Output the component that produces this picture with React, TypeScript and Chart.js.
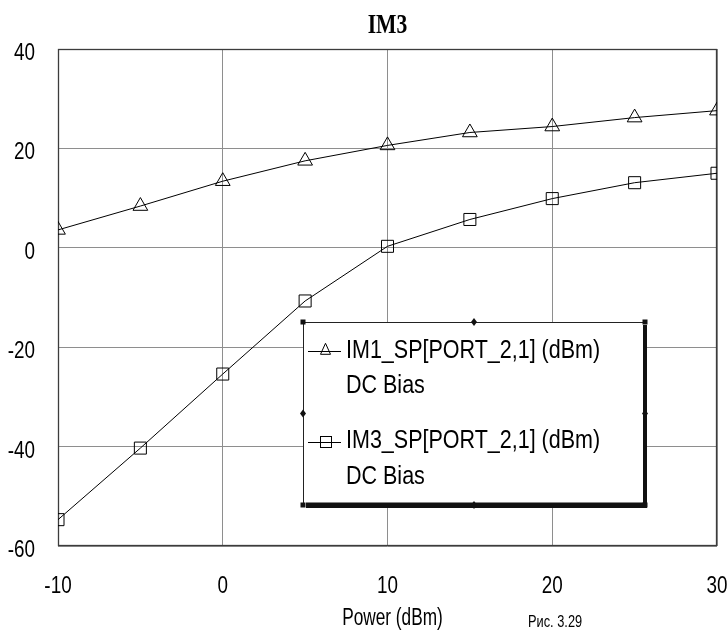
import React, { useEffect, useRef } from 'react';
import { Chart, registerables } from 'chart.js';

Chart.register(...registerables);

// ---- data ----
const powerDbm = [-10, -5, 0, 5, 10, 15, 20, 25, 30];
const im1Values = [3.6, 8.4, 13.4, 17.5, 20.6, 23.2, 24.4, 26.2, 27.6];
const im3Values = [-54.7, -40.3, -25.4, -10.7, 0.3, 5.7, 9.9, 13.1, 15.0];
const xTickValues = [-10, 0, 10, 20, 30];
const yTickValues = [-60, -40, -20, 0, 20, 40];
const seriesNames = ['IM1_SP[PORT_2,1] (dBm)', 'IM3_SP[PORT_2,1] (dBm)'];
const seriesSubtitle = 'DC Bias';
const chartTitle = 'IM3';
const xAxisTitle = 'Power (dBm)';
const figureNote = 'Рис. 3.29';

const SANS = "'Liberation Sans', Arial, sans-serif";
const SERIF = "'Liberation Serif', 'Times New Roman', serif";

// draws horizontally condensed text (the original uses a narrow face)
function narrowText(
  ctx: CanvasRenderingContext2D,
  text: string,
  x: number,
  y: number,
  font: string,
  sx: number,
  align: CanvasTextAlign,
) {
  ctx.save();
  ctx.font = font;
  ctx.textAlign = align;
  ctx.textBaseline = 'alphabetic';
  ctx.translate(x, y);
  ctx.scale(sx, 1);
  ctx.fillText(text, 0, 0);
  ctx.restore();
}

function drawTri(ctx: CanvasRenderingContext2D, x: number, y: number, w: number, h: number) {
  ctx.beginPath();
  ctx.moveTo(x, y - h * 0.7);
  ctx.lineTo(x + w / 2, y + h * 0.3);
  ctx.lineTo(x - w / 2, y + h * 0.3);
  ctx.closePath();
  ctx.stroke();
}

const decorPlugin = {
  id: 'decor',
  beforeDatasetsDraw(chart: any) {
    const { ctx, chartArea: ca } = chart;
    ctx.save();
    ctx.strokeStyle = '#3c3c3c';
    ctx.lineWidth = 1.3;
    ctx.strokeRect(ca.left + 0.5, ca.top + 0.5, ca.right - ca.left - 1, ca.bottom - ca.top - 1);
    ctx.restore();
  },
  afterDraw(chart: any) {
    const { ctx, chartArea: ca, scales } = chart;
    ctx.save();
    ctx.fillStyle = '#000';

    // title
    narrowText(ctx, chartTitle, (ca.left + ca.right) / 2, 33, `bold 27px ${SERIF}`, 0.8, 'center');

    // y tick labels
    scales.y.ticks.forEach((t: any) => {
      const py = scales.y.getPixelForValue(t.value);
      narrowText(ctx, String(t.value), ca.left - 23, py + 11, `23px ${SANS}`, 0.82, 'right');
    });
    // x tick labels
    scales.x.ticks.forEach((t: any) => {
      const px = scales.x.getPixelForValue(t.value);
      narrowText(ctx, String(t.value), px, 593, `23px ${SANS}`, 0.82, 'center');
    });
    // x axis title
    narrowText(ctx, xAxisTitle, (ca.left + ca.right) / 2 + 5, 625, `23px ${SANS}`, 0.75, 'center');

    // figure note
    narrowText(ctx, figureNote, 528, 627, `16px ${SANS}`, 0.8, 'left');

    // legend box
    const L = 303, R = 645, T = 322, B = 505;
    ctx.fillStyle = '#fff';
    ctx.fillRect(L, T, R - L, B - T);
    ctx.strokeStyle = '#222';
    ctx.lineWidth = 1;
    ctx.beginPath();
    ctx.moveTo(L, T + 0.5);
    ctx.lineTo(R, T + 0.5);
    ctx.moveTo(L + 0.5, T);
    ctx.lineTo(L + 0.5, B);
    ctx.stroke();
    ctx.fillStyle = '#111';
    ctx.fillRect(L + 3, B - 2.5, R - L - 3, 5.5);
    ctx.fillRect(R - 2, T + 3, 4, B - T);
    const corners = [[L, T], [R, T], [L, B], [R, B]];
    corners.forEach(([cx, cy]) => ctx.fillRect(cx - 2.5, cy - 2.5, 5, 5));
    const mids = [[(L + R) / 2, T], [L, (T + B) / 2], [R, (T + B) / 2], [(L + R) / 2, B]];
    mids.forEach(([cx, cy]) => {
      ctx.beginPath();
      ctx.moveTo(cx, cy - 4);
      ctx.lineTo(cx + 3, cy);
      ctx.lineTo(cx, cy + 4);
      ctx.lineTo(cx - 3, cy);
      ctx.closePath();
      ctx.fill();
    });

    // legend entries
    ctx.strokeStyle = '#000';
    ctx.lineWidth = 1;
    const rows = [
      { lineY: 351, base1: 358, base2: 393 },
      { lineY: 442, base1: 448, base2: 484 },
    ];
    rows.forEach((r, i) => {
      ctx.beginPath();
      ctx.moveTo(308, r.lineY + 0.5);
      ctx.lineTo(341, r.lineY + 0.5);
      ctx.stroke();
      if (i === 0) {
        drawTri(ctx, 325.5, r.lineY, 10, 11);
      } else {
        ctx.strokeRect(320.5, r.lineY - 5.5, 11, 11);
      }
      ctx.fillStyle = '#000';
      narrowText(ctx, seriesNames[i], 346, r.base1, `25px ${SANS}`, 0.86, 'left');
      narrowText(ctx, seriesSubtitle, 346, r.base2, `25px ${SANS}`, 0.86, 'left');
    });
    ctx.restore();
  },
};

export default function App() {
  const ref = useRef<HTMLCanvasElement | null>(null);
  useEffect(() => {
    if (!ref.current) return;
    const chart = new Chart(ref.current, {
      type: 'line',
      data: {
        datasets: [
          {
            label: seriesNames[0],
            data: powerDbm.map((x, i) => ({ x, y: im1Values[i] })),
            borderColor: '#000',
            borderWidth: 1,
            pointStyle: 'triangle',
            pointRadius: 8.5,
            pointBorderColor: '#000',
            pointBorderWidth: 1,
            pointBackgroundColor: 'rgba(0,0,0,0)',
            tension: 0,
            clip: 0,
          },
          {
            label: seriesNames[1],
            data: powerDbm.map((x, i) => ({ x, y: im3Values[i] })),
            borderColor: '#000',
            borderWidth: 1,
            pointStyle: 'rect',
            pointRadius: 8.5,
            pointBorderColor: '#000',
            pointBorderWidth: 1,
            pointBackgroundColor: 'rgba(0,0,0,0)',
            tension: 0,
            clip: 0,
          },
        ],
      },
      options: {
        responsive: false,
        animation: false,
        devicePixelRatio: 1,
        layout: { padding: { top: 49, right: 23, left: 0, bottom: 0 } },
        plugins: {
          legend: { display: false },
          title: { display: false },
          tooltip: { enabled: false },
        },
        scales: {
          x: {
            type: 'linear',
            min: -10,
            max: 30,
            afterBuildTicks: (s: any) => {
              s.ticks = xTickValues.map((v) => ({ value: v }));
            },
            afterFit: (s: any) => {
              s.height = 84;
            },
            ticks: { display: false },
            grid: { color: '#8e8e8e', lineWidth: 1, drawTicks: false },
            border: { display: false },
          },
          y: {
            type: 'linear',
            min: -60,
            max: 40,
            afterBuildTicks: (s: any) => {
              s.ticks = yTickValues.map((v) => ({ value: v }));
            },
            afterFit: (s: any) => {
              s.width = 58;
            },
            ticks: { display: false },
            grid: { color: '#8e8e8e', lineWidth: 1, drawTicks: false },
            border: { display: false },
          },
        },
      },
      plugins: [decorPlugin],
    } as any);
    return () => chart.destroy();
  }, []);
  return (
    <div style={{ position: 'fixed', left: 0, top: 0, width: 740, height: 630, background: '#fff' }}>
      <canvas ref={ref} width={740} height={630} style={{ display: 'block' }} />
    </div>
  );
}
